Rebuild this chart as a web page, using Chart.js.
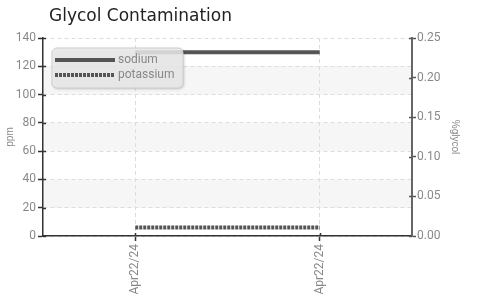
<!DOCTYPE html>
<html>
<head>
  <meta charset="UTF-8" />
  <title>Glycol Contamination</title>
  <style>
    body { margin:0; background:#fff; }
    #wrap { width:477px; height:297px; position:relative; }
  </style>
  <script src="https://cdn.jsdelivr.net/npm/chart.js"></script>
</head>
<body>
  <div id="wrap"><canvas id="c" width="477" height="297"></canvas></div>
  <script>
    const titleText = 'Glycol Contamination';
    const labels = ['Apr22/24', 'Apr22/24'];
    const sodium = [130, 130];
    const potassium = [6, 6];
    const ppmTicks = { min: 0, max: 140, step: 20 };
    const glycolTicks = { min: 0, max: 0.25, step: 0.05 };

    const tickFont = { family: "'Liberation Sans Narrow', 'Roboto', sans-serif", size: 12 };
    const tickColor = '#888';

    // alternating light bands between the ppm grid lines
    const bands = {
      id: 'bands',
      beforeDraw(chart) {
        const { ctx, chartArea: a } = chart;
        const y = chart.scales.y;
        ctx.save();
        ctx.fillStyle = '#f6f6f6';
        for (let v = ppmTicks.min + ppmTicks.step; v < ppmTicks.max; v += ppmTicks.step * 2) {
          const y1 = y.getPixelForValue(v), y2 = y.getPixelForValue(v + ppmTicks.step);
          ctx.fillRect(a.left, y2, a.right - a.left, y1 - y2);
        }
        ctx.restore();
      }
    };

    // title sits above the plot, lined up near its left edge
    const plotTitle = {
      id: 'plotTitle',
      afterDraw(chart) {
        const { ctx, chartArea: a } = chart;
        ctx.save();
        ctx.fillStyle = '#222';
        ctx.font = "17px 'DejaVu Sans', sans-serif";
        ctx.textBaseline = 'middle';
        ctx.fillText(titleText, a.left + 6, 17);
        ctx.restore();
      }
    };

    // legend box drawn inside the plot, top-left
    const boxLegend = {
      id: 'boxLegend',
      afterDraw(chart) {
        const { ctx, chartArea: a } = chart;
        const x = a.left + 9, y = a.top + 10, w = 131, h = 40;
        ctx.save();
        ctx.shadowColor = 'rgba(0,0,0,0.25)';
        ctx.shadowBlur = 3;
        ctx.shadowOffsetX = 1;
        ctx.shadowOffsetY = 1;
        ctx.fillStyle = 'rgba(236,236,236,0.85)';
        ctx.beginPath();
        ctx.roundRect(x, y, w, h, 5);
        ctx.fill();
        ctx.shadowColor = 'transparent';
        ctx.strokeStyle = '#ccc';
        ctx.lineWidth = 1;
        ctx.stroke();
        chart.data.datasets.forEach((ds, i) => {
          const ly = y + 12 + i * 15;
          ctx.strokeStyle = ds.borderColor;
          ctx.lineWidth = ds.borderWidth;
          ctx.setLineDash(ds.borderDash || []);
          ctx.beginPath();
          ctx.moveTo(x + 3, ly);
          ctx.lineTo(x + 63, ly);
          ctx.stroke();
          ctx.setLineDash([]);
          ctx.fillStyle = tickColor;
          ctx.font = "12px 'Liberation Sans Narrow', 'Roboto', sans-serif";
          ctx.textBaseline = 'middle';
          ctx.fillText(ds.label, x + 66, ly);
        });
        ctx.restore();
      }
    };

    // small tick marks crossing into the plot on both y axes
    const innerTicks = {
      id: 'innerTicks',
      afterDatasetsDraw(chart) {
        const { ctx, chartArea: a } = chart;
        ctx.save();
        ctx.lineWidth = 1.5;
        ['y', 'y2'].forEach(id => {
          const s = chart.scales[id];
          const x = id === 'y' ? a.left : a.right;
          ctx.strokeStyle = id === 'y' ? '#333' : '#555';
          s.ticks.forEach(t => {
            const py = Math.round(s.getPixelForValue(t.value)) + 0.5;
            ctx.beginPath();
            ctx.moveTo(x, py);
            ctx.lineTo(id === 'y' ? x + 3 : x - 3, py);
            ctx.stroke();
          });
        });
        const sx = chart.scales.x;
        ctx.strokeStyle = '#333';
        sx.ticks.forEach((t, i) => {
          const px = Math.round(sx.getPixelForTick(i)) + 0.5;
          ctx.beginPath();
          ctx.moveTo(px, a.bottom);
          ctx.lineTo(px, a.bottom - 3);
          ctx.stroke();
        });
        ctx.restore();
      }
    };

    new Chart(document.getElementById('c'), {
      type: 'line',
      data: {
        labels: labels,
        datasets: [
          { label: 'sodium', data: sodium, yAxisID: 'y', borderColor: '#555', borderWidth: 4,
            pointRadius: 0, fill: false },
          { label: 'potassium', data: potassium, yAxisID: 'y', borderColor: '#555', borderWidth: 4,
            borderDash: [3, 1], pointRadius: 0, fill: false }
        ]
      },
      options: {
        responsive: false,
        animation: false,
        layout: { padding: { right: 12, top: 38 } },
        plugins: {
          legend: { display: false },
          tooltip: { enabled: false },
          title: { display: false }
        },
        scales: {
          x: {
            offset: true,
            grid: { offset: false, color: '#ddd', tickColor: '#333', tickLength: 5, tickWidth: 1.5, tickBorderDash: [] },
            border: { color: '#333', width: 1.5, dash: [4, 3] },
            ticks: { color: tickColor, font: tickFont, minRotation: 90, maxRotation: 90, padding: 3, autoSkip: false },
            afterFit(s) { s.height = 61; }
          },
          y: {
            position: 'left',
            min: ppmTicks.min, max: ppmTicks.max,
            ticks: { stepSize: ppmTicks.step, color: tickColor, font: tickFont, padding: 2 },
            grid: { color: '#ddd', tickColor: '#333', tickLength: 5, tickWidth: 1.5, tickBorderDash: [] },
            border: { color: '#333', width: 1.5, dash: [4, 3] },
            title: { display: true, text: 'ppm', color: tickColor, font: { size: 10 }, padding: 4 },
            afterFit(s) { s.width = 43; }
          },
          y2: {
            position: 'right',
            min: glycolTicks.min, max: glycolTicks.max,
            ticks: { stepSize: glycolTicks.step, color: tickColor, font: tickFont, padding: 1,
              callback: v => Number(v).toFixed(2) },
            grid: { drawOnChartArea: false, tickColor: '#555', tickLength: 4, tickWidth: 1.5 },
            border: { color: '#666', width: 2 },
            title: { display: true, text: '%glycol', color: tickColor, font: { size: 10 }, padding: 4 },
            afterFit(s) { s.width = 53; }
          }
        }
      },
      plugins: [bands, innerTicks, boxLegend, plotTitle]
    });
  </script>
</body>
</html>
